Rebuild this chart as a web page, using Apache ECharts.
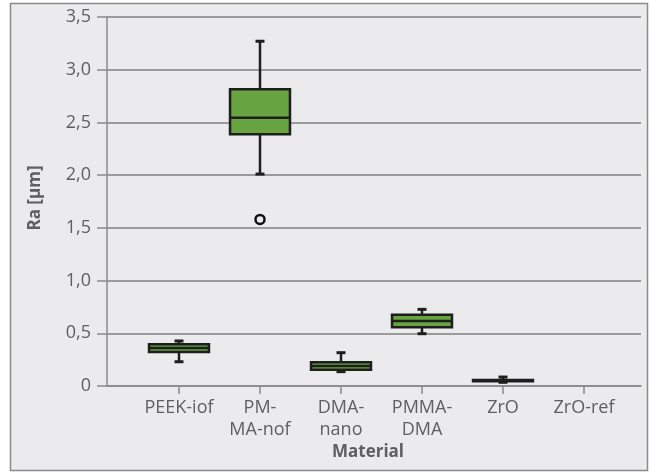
<!DOCTYPE html>
<html><head><meta charset="utf-8">
<script src="https://cdn.jsdelivr.net/npm/echarts@6/dist/echarts.min.js"></script>
<style>html,body{margin:0;padding:0;background:#fff}#c{width:651px;height:474px}</style>
</head><body><div id="c"></div>
<script>
const categories = ['PEEK-iof', 'PM-\nMA-nof', 'DMA-\nnano', 'PMMA-\nDMA', 'ZrO', 'ZrO-ref'];
const whiskerLow  = [0.23, 2.01, 0.136, 0.496, 0.035, null];
const q1          = [0.322, 2.387, 0.155, 0.557, 0.045, null];
const median      = [0.36, 2.545, 0.19, 0.617, 0.052, null];
const q3          = [0.396, 2.814, 0.225, 0.676, 0.058, null];
const whiskerHigh = [0.427, 3.27, 0.316, 0.727, 0.085, null];
const outliers = [[2, 1.58]]; // [category position (1-based), value]
const yTicks = [0, 0.5, 1.0, 1.5, 2.0, 2.5, 3.0, 3.5];

const FONT = 'Open Sans';
const boxData = [];
categories.forEach((c, i) => {
  if (q1[i] != null) boxData.push([i + 1, whiskerLow[i], q1[i], median[i], q3[i], whiskerHigh[i]]);
});

const chart = echarts.init(document.getElementById('c'), null, {renderer: 'canvas'});
chart.setOption({
  backgroundColor: '#fff',
  animation: false,
  graphic: [
    {type: 'rect', shape: {x: 10.5, y: 3.5, width: 637, height: 467}, style: {fill: '#ebebed', stroke: '#8a8a8a', lineWidth: 1.5}, z: -10},
    {type: 'text', x: 368, y: 452, style: {text: 'Material', font: 'bold 17px "' + FONT + '"', fill: '#5f5f5f', align: 'center', verticalAlign: 'middle'}},
    {type: 'text', x: 35, y: 198, rotation: Math.PI / 2, style: {text: 'Ra [µm]', font: 'bold 17px "' + FONT + '"', fill: '#5f5f5f', align: 'center', verticalAlign: 'middle'}}
  ],
  grid: {left: 107, right: 10, top: 17, bottom: 88},
  xAxis: {
    type: 'value', min: 1 - 72 / 81, max: 1 - 72 / 81 + 534 / 81,
    splitLine: {show: false},
    axisLine: {show: true, onZero: false, lineStyle: {color: '#8a8a8a', width: 1.5}},
    axisTick: {show: true, length: 8, lineStyle: {color: '#8a8a8a', width: 1.5}, customValues: categories.map((c, i) => i + 1)},
    axisLabel: {
      customValues: categories.map((c, i) => i + 1),
      formatter: v => categories[Math.round(v) - 1] || '',
      color: '#5f5f5f', fontFamily: FONT, fontSize: 18, lineHeight: 22, margin: 11, verticalAlign: 'top'
    }
  },
  yAxis: {
    type: 'value', min: 0, max: 3.5, interval: 0.5,
    axisLine: {show: true, lineStyle: {color: '#8a8a8a', width: 1.5}},
    axisTick: {show: true, length: 10, lineStyle: {color: '#8a8a8a', width: 1.5}},
    splitLine: {show: true, lineStyle: {color: '#808080', width: 1.5}},
    axisLabel: {
      formatter: v => { const t = yTicks.find(x => Math.abs(x - v) < 1e-9); return t === 0 ? '0' : (t != null ? t.toFixed(1).replace('.', ',') : ''); },
      color: '#5f5f5f', fontFamily: FONT, fontSize: 18, margin: 16
    }
  },
  series: [
    {
      type: 'custom',
      data: boxData,
      encode: {x: 0, y: [1, 2, 3, 4, 5]},
      renderItem: function (params, api) {
        const x = api.value(0);
        const bw = api.size([1, 0])[0] * 0.74;
        const cap = 9;
        const pLo = api.coord([x, api.value(1)]);
        const pQ1 = api.coord([x, api.value(2)]);
        const pMed = api.coord([x, api.value(3)]);
        const pQ3 = api.coord([x, api.value(4)]);
        const pHi = api.coord([x, api.value(5)]);
        const cx = pMed[0];
        const stroke = {stroke: '#1e1e1e', lineWidth: 2.5};
        return {
          type: 'group',
          children: [
            {type: 'line', shape: {x1: cx, y1: pHi[1], x2: cx, y2: pQ3[1]}, style: stroke},
            {type: 'line', shape: {x1: cx, y1: pQ1[1], x2: cx, y2: pLo[1]}, style: stroke},
            {type: 'line', shape: {x1: cx - cap / 2, y1: pHi[1], x2: cx + cap / 2, y2: pHi[1]}, style: {stroke: '#1e1e1e', lineWidth: 3}},
            {type: 'line', shape: {x1: cx - cap / 2, y1: pLo[1], x2: cx + cap / 2, y2: pLo[1]}, style: {stroke: '#1e1e1e', lineWidth: 3}},
            {type: 'rect', shape: {x: cx - bw / 2, y: pQ3[1], width: bw, height: pQ1[1] - pQ3[1]}, style: {fill: '#68a341', stroke: '#1e1e1e', lineWidth: 2.5}},
            {type: 'line', shape: {x1: cx - bw / 2, y1: pMed[1], x2: cx + bw / 2, y2: pMed[1]}, style: stroke}
          ]
        };
      },
      z: 5
    },
    {
      type: 'scatter', data: outliers, symbol: 'circle', symbolSize: 9,
      itemStyle: {color: '#ebebed', borderColor: '#111', borderWidth: 2.5, opacity: 1}, z: 6
    }
  ]
});
</script></body></html>
